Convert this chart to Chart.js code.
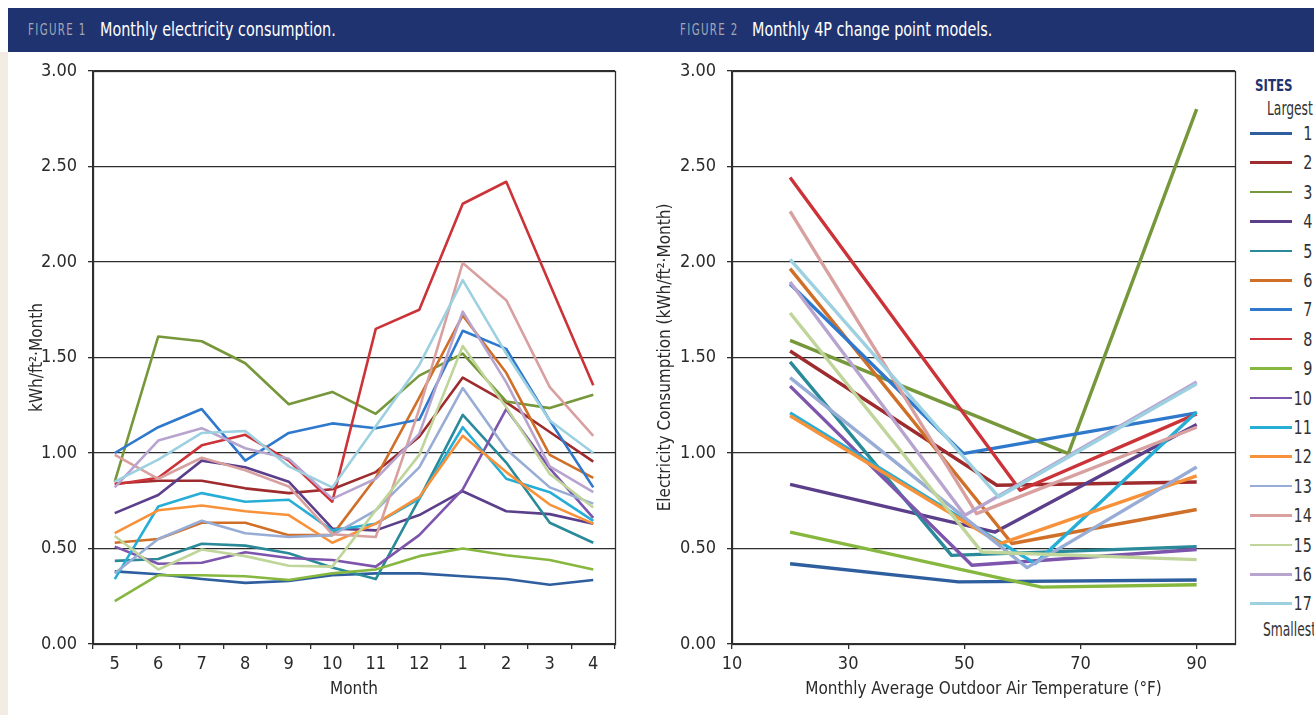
<!DOCTYPE html>
<html><head><meta charset="utf-8">
<script src="https://cdn.jsdelivr.net/npm/chart.js@4"></script>
<style>
html,body{margin:0;padding:0;}
body{width:1314px;height:715px;position:relative;overflow:hidden;background:#fff;font-family:'Liberation Sans Narrow','DejaVu Sans Condensed','Roboto',sans-serif;}
#strip{position:absolute;left:0;top:52px;width:8px;height:663px;background:#F1EDE3;}
#hdr{position:absolute;left:8px;top:8px;width:1306px;height:44px;background:#1F3370;}
.fig{position:absolute;top:12px;color:#A3A8B6;font-size:15px;letter-spacing:1.8px;line-height:20px;transform:scaleX(0.76);transform-origin:0 0;white-space:nowrap;}
.ttl{position:absolute;top:9px;color:#fff;font-size:20px;line-height:24px;transform:scaleX(0.8);transform-origin:0 0;white-space:nowrap;}
canvas{position:absolute;top:0;}
#c1{left:0;}
#c2{left:640px;}
#legend{position:absolute;left:1240px;top:0;width:74px;height:715px;overflow:hidden;}
.lg-h{position:absolute;left:15px;top:76px;color:#1F3370;font-weight:bold;font-size:16px;transform:scaleX(0.82);transform-origin:0 0;}
.lg-t{position:absolute;color:#333;font-size:19px;line-height:20px;white-space:nowrap;transform:scaleX(0.72);transform-origin:0 0;}
.lg-line{position:absolute;left:10px;width:42px;height:2.5px;}
.lg-n{position:absolute;right:2px;color:#333;font-size:20px;line-height:20px;transform:scaleX(0.8);transform-origin:100% 0;}
</style></head>
<body>
<div id="strip"></div>
<div id="hdr">
  <span class="fig" style="left:20px">FIGURE 1</span>
  <span class="ttl" style="left:92px">Monthly electricity consumption.</span>
  <span class="fig" style="left:672px">FIGURE 2</span>
  <span class="ttl" style="left:744px">Monthly 4P change point models.</span>
</div>
<canvas id="c1" width="640" height="715"></canvas>
<canvas id="c2" width="600" height="715"></canvas>
<div id="legend"></div>
<script>
// ---------- data ----------
const months = ['5','6','7','8','9','10','11','12','1','2','3','4'];
const siteNames = ['1','2','3','4','5','6','7','8','9','10','11','12','13','14','15','16','17'];
const siteColors = ['#2F5E9E','#9E2B2E','#76973A','#5B3F8A','#2A8A9A','#CF6F28','#2E79CC','#CC3338','#86B73E','#7E55AC','#27AED6','#F7923A','#98ADD6','#D9A0A0','#BFD59A','#B8A5CF','#9DD0E0'];

const site1  = [0.38,0.365,0.34,0.32,0.33,0.36,0.37,0.37,0.355,0.34,0.31,0.335];
const site2  = [0.84,0.855,0.855,0.815,0.79,0.81,0.90,1.085,1.395,1.265,1.11,0.955];
const site3  = [0.85,1.61,1.585,1.47,1.255,1.32,1.205,1.405,1.52,1.27,1.235,1.305];
const site4  = [0.685,0.78,0.96,0.925,0.85,0.605,0.595,0.675,0.80,0.695,0.68,0.63];
const site5  = [0.435,0.445,0.525,0.515,0.475,0.40,0.34,0.76,1.20,0.95,0.635,0.53];
const site6  = [0.53,0.55,0.635,0.635,0.57,0.57,0.87,1.29,1.72,1.42,0.99,0.87];
const site7  = [1.0,1.135,1.23,0.96,1.105,1.155,1.13,1.175,1.64,1.545,1.17,0.82];
const site8  = [0.835,0.87,1.04,1.095,0.96,0.745,1.65,1.75,2.305,2.42,1.885,1.355];
const site9  = [0.225,0.36,0.36,0.355,0.335,0.37,0.39,0.46,0.50,0.465,0.44,0.39];
const site10 = [0.51,0.42,0.425,0.48,0.45,0.44,0.405,0.57,0.81,1.23,0.92,0.66];
const site11 = [0.34,0.72,0.79,0.745,0.755,0.595,0.63,0.76,1.135,0.865,0.795,0.645];
const site12 = [0.58,0.70,0.725,0.695,0.675,0.53,0.63,0.77,1.09,0.90,0.73,0.63];
const site13 = [0.37,0.55,0.645,0.58,0.56,0.57,0.70,0.925,1.34,1.02,0.82,0.735];
const site14 = [0.99,0.865,0.975,0.91,0.825,0.575,0.56,1.23,1.995,1.80,1.345,1.09];
const site15 = [0.565,0.39,0.495,0.46,0.41,0.405,0.70,0.99,1.56,1.24,0.89,0.715];
const site16 = [0.82,1.065,1.13,1.025,0.97,0.76,0.865,1.10,1.74,1.37,0.93,0.795];
const site17 = [0.85,0.965,1.105,1.115,0.93,0.82,1.14,1.46,1.905,1.52,1.17,1.0];
const monthly = [site1,site2,site3,site4,site5,site6,site7,site8,site9,site10,site11,site12,site13,site14,site15,site16,site17];

// 4P change point models: value at 20°F, change point temperature & value, value at 90°F
const tempLow = 20;
const tempHigh = 90;
const valueLow    = [0.42,1.534,1.59,0.836,1.477,1.965,1.885,2.442,0.586,1.35,1.21,1.195,1.395,2.265,1.733,1.895,2.014];
const changeTemp  = [49.0,55.6,67.9,55.3,47.8,58.2,49.8,59.6,63.3,51.3,62.2,56.2,60.8,52.1,53.0,50.1,55.9];
const changeValue = [0.325,0.831,0.997,0.586,0.464,0.526,0.997,0.805,0.298,0.412,0.421,0.526,0.40,0.683,0.482,0.674,0.77];
const valueHigh   = [0.335,0.848,2.80,1.149,0.51,0.704,1.21,1.205,0.31,0.495,1.215,0.88,0.927,1.135,0.442,1.372,1.363];

const yTicks = [0,0.5,1,1.5,2,2.5,3];
const tempTicks = [10,30,50,70,90];

// ---------- style ----------
const FONT = "'Liberation Sans Narrow','DejaVu Sans Condensed','Roboto',sans-serif";
const AX = '#2e2e2e';
const TXT = '#2a2a2a';

const frame = {
  id:'frame',
  beforeDatasetsDraw(chart){
    const a = chart.chartArea, c = chart.ctx;
    c.save(); c.strokeStyle = AX; c.lineWidth = 1.3;
    c.strokeRect(Math.round(a.left)+0.5, Math.round(a.top)+0.5, Math.round(a.right-a.left), Math.round(a.bottom-a.top));
    c.restore();
  }
};

function yScale(title, titlePad, width){
  return {
    min:0, max:3,
    afterBuildTicks(s){ s.ticks = yTicks.map(v=>({value:v})); },
    ticks:{ color:TXT, font:{family:FONT,size:18}, padding:11, callback:v=>Number(v).toFixed(2) },
    grid:{ color:AX, lineWidth:1.3, tickLength:5, drawTicks:true },
    border:{ color:AX, width:1.3 },
    title:{ display:true, text:title, color:TXT, font:{family:FONT,size:17}, padding:{top:titlePad,bottom:0} },
    afterFit(s){ s.width = width; }
  };
}

// ---------- chart 1 ----------
new Chart(document.getElementById('c1'), {
  type:'line',
  data:{
    labels: months,
    datasets: monthly.map((d,i)=>({
      label: siteNames[i], data: d, borderColor: siteColors[i], backgroundColor: siteColors[i],
      borderWidth: 2.6, pointRadius: 0, tension: 0, fill: false, order: 16 - i, borderJoinStyle:'round'
    }))
  },
  options:{
    responsive:false, animation:false,
    layout:{ padding:{ top:71, left:0, right:25, bottom:0 } },
    plugins:{ legend:{display:false}, tooltip:{enabled:false} },
    scales:{
      x:{
        type:'category', offset:true,
        grid:{ drawOnChartArea:false, drawTicks:true, tickLength:5, offset:true, color:AX, lineWidth:1.3 },
        border:{ color:AX, width:1.3 },
        ticks:{ color:TXT, font:{family:FONT,size:18}, padding:5, maxRotation:0, autoSkip:false },
        title:{ display:true, text:'Month', color:TXT, font:{family:FONT,size:17}, padding:{top:0,bottom:15} },
        afterFit(s){ s.height = 71; }
      },
      y: yScale('kWh/ft²·Month', 27, 93)
    }
  },
  plugins:[frame]
});

// ---------- chart 2 ----------
new Chart(document.getElementById('c2'), {
  type:'line',
  data:{
    datasets: siteNames.map((n,i)=>({
      label: n,
      data: [ {x:tempLow, y:valueLow[i]}, {x:changeTemp[i], y:changeValue[i]}, {x:tempHigh, y:valueHigh[i]} ],
      borderColor: siteColors[i], backgroundColor: siteColors[i],
      borderWidth: 3.4, pointRadius: 0, tension: 0, fill: false, order: 16 - i, borderJoinStyle:'round'
    }))
  },
  options:{
    responsive:false, animation:false,
    layout:{ padding:{ top:71, left:0, right:5, bottom:0 } },
    plugins:{ legend:{display:false}, tooltip:{enabled:false} },
    scales:{
      x:{
        type:'linear', min:10, max:96.6,
        afterBuildTicks(s){ s.ticks = tempTicks.map(v=>({value:v})); },
        grid:{ drawOnChartArea:false, drawTicks:true, tickLength:5, color:AX, lineWidth:1.3 },
        border:{ color:AX, width:1.3 },
        ticks:{ color:TXT, font:{family:FONT,size:18}, padding:5, maxRotation:0 },
        title:{ display:true, text:'Monthly Average Outdoor Air Temperature (°F)', color:TXT, font:{family:FONT,size:17}, padding:{top:0,bottom:15} },
        afterFit(s){ s.height = 71; }
      },
      y: yScale('Electricity Consumption (kWh/ft²·Month)', 15, 92)
    }
  },
  plugins:[frame]
});

// ---------- legend ----------
const lg = document.getElementById('legend');
let html = '<div class="lg-h">SITES</div><div class="lg-t" style="left:27px;top:98px">Largest</div>';
siteNames.forEach((n,i)=>{
  const cy = 133 + i*29.4;
  html += `<div class="lg-line" style="top:${cy-1}px;background:${siteColors[i]}"></div>`;
  html += `<div class="lg-n" style="top:${cy-10}px">${n}</div>`;
});
html += '<div class="lg-t" style="left:23px;top:619px">Smallest</div>';
lg.innerHTML = html;
</script>
</body></html>
